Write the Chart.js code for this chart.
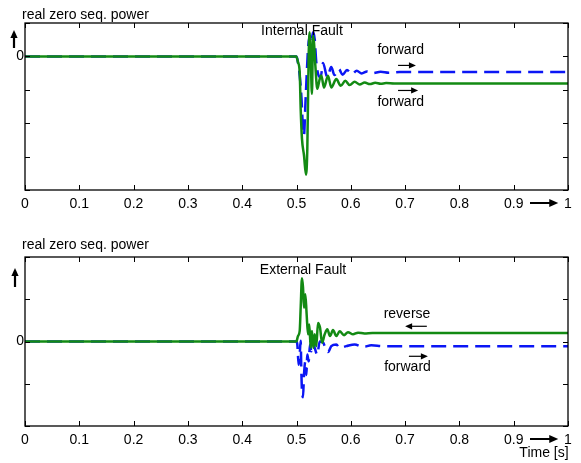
<!DOCTYPE html>
<html>
<head>
<meta charset="utf-8">
<script src="https://cdn.jsdelivr.net/npm/chart.js@4/dist/chart.umd.min.js"></script>
<style>
  html, body { margin: 0; padding: 0; background: #fff; }
  #wrap { position: relative; width: 581px; height: 463px; }
  #wrap canvas { position: absolute; left: 0; }
</style>
</head>
<body>
<div id="wrap">
  <canvas id="internal" width="581" height="232" style="top:0"></canvas>
  <canvas id="external" width="581" height="231" style="top:232px"></canvas>
</div>
<script>
// x axis (time, s)
const xTicks      = [0, 0.1, 0.2, 0.3, 0.4, 0.5, 0.6, 0.7, 0.8, 0.9, 1];
const xTickLabels = ['0', '0.1', '0.2', '0.3', '0.4', '0.5', '0.6', '0.7', '0.8', '0.9', '1'];

// y ticks (only the zero is labelled)
const intYTicks = [-4, -3, -2, -1, 0, 1];
const extYTicks = [-2, -1, 0, 1, 2];

// Internal fault, green (solid)
const intGreenT = [0, 0.4997, 0.5028, 0.5059, 0.5077, 0.5101, 0.5138, 0.5175, 0.5199, 0.5224, 0.5243, 0.5261,
  0.5285, 0.5304, 0.5322, 0.5347, 0.5383, 0.5427, 0.5457, 0.5506, 0.5580, 0.5641, 0.5733, 0.5814, 0.5899,
  0.5980, 0.6071, 0.6164, 0.6256, 0.635, 0.645, 0.655, 0.665, 0.68, 1];
const intGreenP = [0, 0, -0.18, -0.48, -1.57, -2.47, -2.96, -3.54, -2.77, 0, 0.72, 0,
  -1.12, 0.62, 0.42, -0.27, -0.97, -0.68, -0.57, -0.93, -0.58, -0.93, -0.68, -0.88, -0.73,
  -0.86, -0.76, -0.84, -0.78, -0.83, -0.79, -0.82, -0.80, -0.81, -0.81];

// Internal fault, blue (dashed)
const intBlueT = [0, 0.4997, 0.5015, 0.5059, 0.5089, 0.5120, 0.5138, 0.5163, 0.5187, 0.5212, 0.5243, 0.5273,
  0.5304, 0.5335, 0.5365, 0.5408, 0.5445, 0.5488, 0.5567, 0.5640, 0.5700, 0.5780, 0.5850, 0.5930, 0.6020,
  0.6110, 0.6200, 0.6300, 0.6400, 0.6550, 0.6700, 0.69, 1];
const intBlueP = [0, 0, -0.08, -0.58, -1.17, -2.17, -2.36, -1.46, -0.58, 0.22, 0.62, 0.42,
  0.72, 0.52, -0.18, -0.58, -0.63, -0.2, -0.62, -0.32, -0.56, -0.38, -0.55, -0.41, -0.53,
  -0.43, -0.51, -0.45, -0.5, -0.46, -0.49, -0.47, -0.47];

// External fault, green (solid)
const extGreenT = [0, 0.4997, 0.5028, 0.5059, 0.5077, 0.5101, 0.5120, 0.5138, 0.5163, 0.5187, 0.5212, 0.5236,
  0.5261, 0.5285, 0.5310, 0.5335, 0.5365, 0.5396, 0.5433, 0.5470, 0.5519, 0.5567, 0.5617, 0.5672, 0.5733,
  0.5795, 0.5875, 0.5948, 0.6041, 0.6133, 0.625, 0.64, 0.66, 1];
const extGreenP = [0, 0, 0.13, 0.25, 0.8, 1.5, 1.28, 0.8, 1.12, 0.64, 0.17, 0.40,
  -0.15, 0.25, -0.15, 0.17, -0.11, 0.44, 0.33, -0.03, 0.17, 0.29, 0.13, 0.27, 0.13,
  0.24, 0.15, 0.22, 0.17, 0.21, 0.19, 0.2, 0.2, 0.2];

// External fault, blue (dashed)
const extBlueT = [0, 0.4997, 0.5015, 0.5040, 0.5059, 0.5077, 0.5089, 0.5101, 0.5120, 0.5138, 0.5163, 0.5181,
  0.5199, 0.5224, 0.5249, 0.5273, 0.5304, 0.5335, 0.5383, 0.5427, 0.5488, 0.5531, 0.5580, 0.5641, 0.5733,
  0.5795, 0.5918, 0.6071, 0.6225, 0.6378, 0.66, 1];
const extBlueP = [0, 0, -0.07, -0.55, -0.31, 0.02, -0.71, -1.18, -1.32, -0.79, -0.47, -0.79,
  -0.31, -0.47, -0.07, -0.23, 0, -0.15, -0.31, 0, -0.02, -0.15, -0.25, -0.11, -0.07,
  -0.15, -0.11, -0.07, -0.13, -0.09, -0.11, -0.11];

const GREEN = '#138a13';
const BLUE  = '#0b16f5';
const FONT  = '"Liberation Sans", Arial, sans-serif';

const pts = (t, p) => t.map((x, i) => ({ x, y: p[i] }));

function arrow(ctx, x1, y1, x2, y2, lw, head) {
  const ang = Math.atan2(y2 - y1, x2 - x1);
  ctx.lineWidth = lw;
  ctx.beginPath();
  ctx.moveTo(x1, y1);
  ctx.lineTo(x2 - Math.cos(ang) * head * 0.8, y2 - Math.sin(ang) * head * 0.8);
  ctx.stroke();
  ctx.beginPath();
  ctx.moveTo(x2, y2);
  ctx.lineTo(x2 - Math.cos(ang) * head + Math.sin(ang) * head * 0.45, y2 - Math.sin(ang) * head - Math.cos(ang) * head * 0.45);
  ctx.lineTo(x2 - Math.cos(ang) * head - Math.sin(ang) * head * 0.45, y2 - Math.sin(ang) * head + Math.cos(ang) * head * 0.45);
  ctx.closePath();
  ctx.fill();
}

// box, inward ticks, notes and arrows
const frame = {
  id: 'frame',
  afterDraw(chart, args, o) {
    const { ctx, chartArea: a, scales: { x, y } } = chart;
    ctx.save();
    ctx.strokeStyle = '#000';
    ctx.fillStyle = '#000';
    ctx.lineWidth = 1.3;
    ctx.strokeRect(a.left, a.top, a.right - a.left, a.bottom - a.top);
    ctx.beginPath();
    x.ticks.forEach(t => {
      const px = Math.round(x.getPixelForValue(t.value)) + 0.5;
      ctx.moveTo(px, a.bottom); ctx.lineTo(px, a.bottom - 5);
      ctx.moveTo(px, a.top);    ctx.lineTo(px, a.top + 5);
    });
    y.ticks.forEach(t => {
      const py = Math.round(y.getPixelForValue(t.value)) + 0.5;
      ctx.moveTo(a.left, py);  ctx.lineTo(a.left + 5, py);
      ctx.moveTo(a.right, py); ctx.lineTo(a.right - 5, py);
    });
    ctx.lineWidth = 1;
    ctx.stroke();

    ctx.font = '14px ' + FONT;
    ctx.textBaseline = 'middle';
    ctx.textAlign = 'left';
    ctx.fillText('real zero seq. power', 22, o.titleY);

    // up arrow next to the y axis
    arrow(ctx, o.upX, o.upY1, o.upX, o.upY2, 2.2, 8);

    // arrow between 0.9 and 1
    const ay = a.bottom + 13;
    arrow(ctx, x.getPixelForValue(0.93), ay, x.getPixelForValue(0.982), ay, 2, 9);

    ctx.textAlign = 'center';
    o.notes.forEach(n => ctx.fillText(n.text, x.getPixelForValue(n.t), y.getPixelForValue(n.v)));
    o.arrows.forEach(r => arrow(ctx, x.getPixelForValue(r.t1), y.getPixelForValue(r.v),
                                     x.getPixelForValue(r.t2), y.getPixelForValue(r.v), 1.2, 7));
    if (o.timeLabel) ctx.fillText('Time [s]', 544, a.bottom + 27);
    ctx.restore();
  }
};

function makeChart(id, green, blue, yTicks, yMin, yMax, topPad, xHeight, frameOpts) {
  return new Chart(document.getElementById(id), {
    type: 'line',
    data: {
      datasets: [
        { data: green, borderColor: GREEN, borderWidth: 2.5, pointRadius: 0, cubicInterpolationMode: 'monotone', order: 0 },
        { data: blue, borderColor: BLUE, borderWidth: 2.5, pointRadius: 0, borderDash: [15, 7], cubicInterpolationMode: 'monotone', order: 1 },
      ]
    },
    options: {
      responsive: false,
      animation: false,
      layout: { padding: { top: topPad, right: 13, left: 0, bottom: 0 } },
      plugins: { legend: { display: false }, tooltip: { enabled: false }, frame: frameOpts },
      scales: {
        x: {
          type: 'linear', min: 0, max: 1,
          afterBuildTicks: s => { s.ticks = xTicks.map(v => ({ value: v })); },
          afterFit: s => { s.height = xHeight; },
          grid: { display: false, drawTicks: false },
          border: { display: false },
          ticks: { callback: (v, i) => xTickLabels[i], color: '#000', font: { size: 14, family: FONT }, padding: 6, maxRotation: 0, autoSkip: false }
        },
        y: {
          min: yMin, max: yMax,
          afterBuildTicks: s => { s.ticks = yTicks.map(v => ({ value: v })); },
          afterFit: s => { s.width = 25; },
          grid: { display: false, drawTicks: false },
          border: { display: false },
          ticks: { callback: v => v === 0 ? '0' : '', color: '#000', font: { size: 14, family: FONT }, padding: 1 }
        }
      }
    },
    plugins: [frame]
  });
}

makeChart('internal', pts(intGreenT, intGreenP), pts(intBlueT, intBlueP), intYTicks, -4, 1, 23, 42, {
  titleY: 15, upX: 14, upY1: 48, upY2: 30, timeLabel: false,
  notes: [
    { text: 'Internal Fault', t: 0.510, v: 0.75 },
    { text: 'forward', t: 0.692, v: 0.18 },
    { text: 'forward', t: 0.692, v: -1.37 },
  ],
  arrows: [
    { t1: 0.687, t2: 0.720, v: -0.27 },
    { t1: 0.687, t2: 0.724, v: -1.02 },
  ]
});

makeChart('external', pts(extGreenT, extGreenP), pts(extBlueT, extBlueP), extYTicks, -2, 2, 25, 37, {
  titleY: 13, upX: 15, upY1: 55, upY2: 36, timeLabel: true,
  notes: [
    { text: 'External Fault', t: 0.512, v: 1.69 },
    { text: 'reverse', t: 0.7035, v: 0.64 },
    { text: 'forward', t: 0.7044, v: -0.6 },
  ],
  arrows: [
    { t1: 0.740, t2: 0.700, v: 0.36 },
    { t1: 0.707, t2: 0.742, v: -0.35 },
  ]
});
</script>
</body>
</html>
